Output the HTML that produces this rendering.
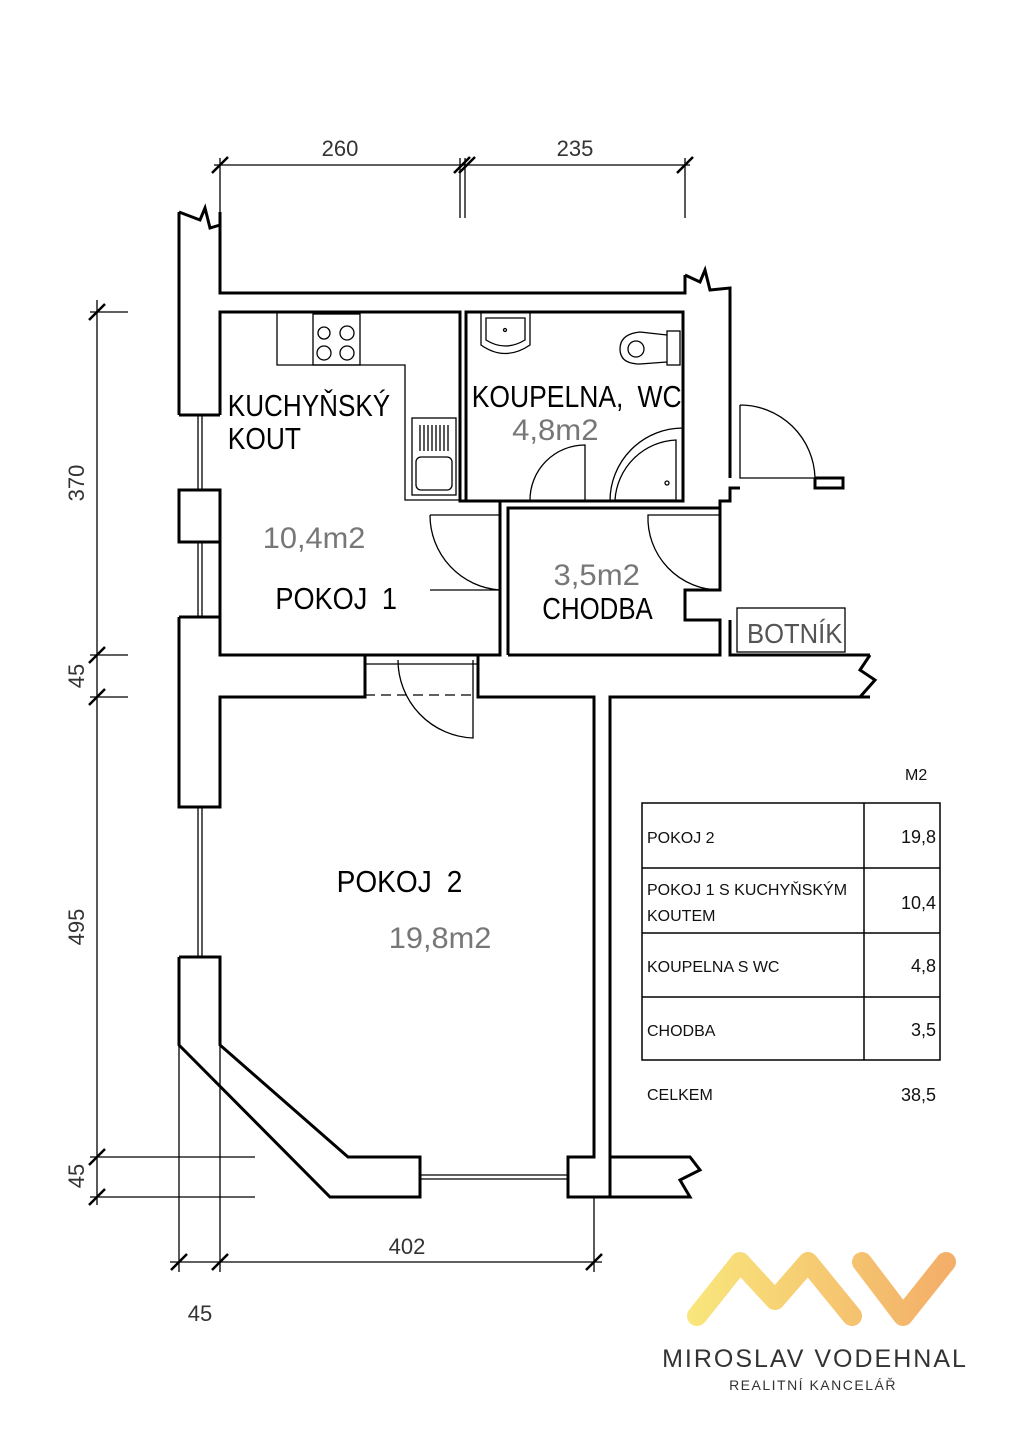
<!DOCTYPE html>
<html><head><meta charset="utf-8"><style>
html,body{margin:0;padding:0;background:#fff}
svg{display:block}
text{font-family:"Liberation Sans",sans-serif}
.c{font-family:"DejaVu Sans Condensed","Liberation Sans Narrow","Liberation Sans",sans-serif}
</style></head><body>
<svg width="1016" height="1440" viewBox="0 0 1016 1440" xmlns="http://www.w3.org/2000/svg">
<defs><linearGradient id="g" gradientUnits="userSpaceOnUse" x1="685" y1="0" x2="955" y2="0"><stop offset="0" stop-color="#f9e77c"/><stop offset="1" stop-color="#f3ad68"/></linearGradient></defs>
<g fill="none" stroke="#000" stroke-width="3">
<polyline points="179,212 179,415"/>
<polyline points="220,212 220,293 685,293 685,275"/>
<polyline points="179,212 200,220 205,208 210,228 220,225"/>
<polyline points="685,275 700,282 705,270 710,290 730,288 730,478"/>
<polyline points="220,415 220,312 460,312 460,501 500,501 500,655 220,655 220,617"/>
<polyline points="220,542 220,617"/>
<polyline points="466,501 466,312 683,312 683,501 466,501"/>
<polyline points="508,655 508,508 720,508 720,590 685,590 685,620 720,620 720,655 508,655"/>
<polyline points="720,508 720,501 730,501 730,488 740,488"/>
<polyline points="730,620 730,655 870,655"/>
<polyline points="179,415 220,415"/>
<rect x="179" y="490" width="41" height="52"/>
<polyline points="179,617 220,617"/>
<polyline points="179,617 179,807 220,807 220,697 365,697 365,655"/>
<polyline points="478,655 478,697 594,697 594,1157 568,1157 568,1197 610,1197 610,697 870,697"/>
<polyline points="870,655 860,670 875,680 860,697"/>
<polyline points="179,957 220,957 220,1045 348,1157 420,1157 420,1197 330,1197 179,1045 179,957"/>
<polyline points="610,1197 690,1197 680,1180 700,1170 690,1157 610,1157"/>
<polyline points="815,478 843,478 843,488 815,488 815,478"/>
</g>
<g fill="none" stroke="#000" stroke-width="1.3">
<line x1="198" y1="415" x2="198" y2="490"/><line x1="202" y1="415" x2="202" y2="490"/>
<line x1="198" y1="542" x2="198" y2="617"/><line x1="202" y1="542" x2="202" y2="617"/>
<line x1="198" y1="807" x2="198" y2="957"/><line x1="202" y1="807" x2="202" y2="957"/>
<line x1="420" y1="1175" x2="568" y2="1175"/><line x1="420" y1="1179" x2="568" y2="1179"/>
<line x1="365" y1="664" x2="478" y2="664"/>
<line x1="365" y1="695" x2="478" y2="695" stroke-dasharray="10,6"/>
<path d="M473,660 L473,738 A78,78 0 0 1 398,660"/>
<path d="M500,590 L430,590 M430,515 A75,75 0 0 0 500,590"/>
<path d="M430,515 L500,515"/>
<path d="M720,590 A72,72 0 0 1 648,515 L720,515"/>
<path d="M585,501 L585,445 A55,55 0 0 0 530,501"/>
<path d="M740,405 L740,478 L815,478 A75,75 0 0 0 740,405"/>
<path d="M683,428 A73,73 0 0 0 610,501"/>
<path d="M676,440 A64,64 0 0 0 615,500 L676,500 Z"/>
<circle cx="667" cy="483" r="2"/>
<polyline points="277,312 277,365 405,365 405,500 460,500"/>
<rect x="313" y="314" width="47" height="51"/>
<circle cx="324" cy="333" r="6"/><circle cx="347" cy="333" r="7"/>
<circle cx="324" cy="353" r="7"/><circle cx="347" cy="353" r="7"/>
<rect x="412" y="418" width="44" height="77"/>
<rect x="416" y="457" width="36" height="33" rx="5"/>
<path d="M420,425v26M424,425v26M428,425v26M432,425v26M436,425v26M440,425v26M444,425v26M448,425v26"/>
<path d="M481,312 L481,345 Q505,362 530,345 L530,312"/>
<path d="M486,318 L486,340 Q505,352 525,340 L525,318 Z"/><circle cx="505" cy="330" r="1.5"/>
<rect x="667" y="331" width="13" height="34"/>
<path d="M667,335 L640,332 Q620,334 620,349 Q620,364 640,364 L667,362"/>
<circle cx="636" cy="349" r="8"/>
<rect x="737" y="608" width="108" height="44"/>
<line x1="214" y1="165" x2="690" y2="165"/>
<line x1="220" y1="158" x2="220" y2="212"/>
<line x1="460" y1="158" x2="460" y2="218"/><line x1="465" y1="158" x2="465" y2="218"/>
<line x1="685" y1="158" x2="685" y2="218"/>
<line x1="97" y1="300" x2="97" y2="1205"/>
<line x1="90" y1="312" x2="128" y2="312"/>
<line x1="90" y1="655" x2="128" y2="655"/>
<line x1="90" y1="697" x2="128" y2="697"/>
<line x1="90" y1="1157" x2="255" y2="1157"/>
<line x1="90" y1="1197" x2="255" y2="1197"/>
<line x1="170" y1="1262" x2="602" y2="1262"/>
<line x1="179" y1="1045" x2="179" y2="1272"/>
<line x1="220" y1="1045" x2="220" y2="1272"/>
<line x1="594" y1="1197" x2="594" y2="1272"/>
</g>
<g stroke="#000" stroke-width="2.5">
<path d="M212,173l16,-16M454,173l16,-16M459,173l16,-16M677,173l16,-16"/>
<path d="M89,320l16,-16M89,663l16,-16M89,705l16,-16M89,1165l16,-16M89,1205l16,-16"/>
<path d="M171,1270l16,-16M212,1270l16,-16M586,1270l16,-16"/>
</g>
<g fill="#222" font-size="22" class="c">
<text x="340" y="156" text-anchor="middle" fill="#333">260</text>
<text x="575" y="156" text-anchor="middle" fill="#333">235</text>
<text x="407" y="1254" text-anchor="middle" fill="#333">402</text>
<text x="200" y="1321" text-anchor="middle" fill="#333">45</text>
<text transform="translate(84,483) rotate(-90)" text-anchor="middle" fill="#333">370</text>
<text transform="translate(84,676) rotate(-90)" text-anchor="middle" fill="#333">45</text>
<text transform="translate(84,927) rotate(-90)" text-anchor="middle" fill="#333">495</text>
<text transform="translate(84,1176) rotate(-90)" text-anchor="middle" fill="#333">45</text>
</g>
<g font-size="31" class="c" fill="#000" transform="scale(0.85,1)" word-spacing="8">
<text x="268" y="416" textLength="191" lengthAdjust="spacingAndGlyphs">KUCHYŇSKÝ</text>
<text x="268" y="449">KOUT</text>
<text x="555" y="407" textLength="247" lengthAdjust="spacingAndGlyphs">KOUPELNA, WC</text>
<text x="324" y="609" textLength="143" lengthAdjust="spacingAndGlyphs">POKOJ 1</text>
<text x="638" y="619" textLength="130" lengthAdjust="spacingAndGlyphs">CHODBA</text>
<text x="396" y="892" textLength="148" lengthAdjust="spacingAndGlyphs">POKOJ 2</text>
</g>
<g font-size="30" class="c" fill="#777" transform="scale(0.9,1)">
<text x="292" y="548" textLength="114" lengthAdjust="spacingAndGlyphs">10,4m2</text>
<text x="569" y="440" textLength="96" lengthAdjust="spacingAndGlyphs">4,8m2</text>
<text x="615" y="585" textLength="96" lengthAdjust="spacingAndGlyphs">3,5m2</text>
<text x="432" y="948" textLength="114" lengthAdjust="spacingAndGlyphs">19,8m2</text>
<text x="830" y="643" fill="#555" font-size="28" textLength="106" lengthAdjust="spacingAndGlyphs">BOTNÍK</text>
</g>
<g fill="none" stroke="#000" stroke-width="1.5">
<rect x="642" y="803" width="298" height="257"/>
<line x1="864" y1="803" x2="864" y2="1060"/>
<line x1="642" y1="868" x2="940" y2="868"/>
<line x1="642" y1="933" x2="940" y2="933"/>
<line x1="642" y1="997" x2="940" y2="997"/>
</g>
<g font-size="16" fill="#111">
<text x="905" y="780">M2</text>
<text x="647" y="843">POKOJ 2</text>
<text x="647" y="895">POKOJ 1 S KUCHYŇSKÝM</text>
<text x="647" y="921">KOUTEM</text>
<text x="647" y="972">KOUPELNA S WC</text>
<text x="647" y="1036">CHODBA</text>
<text x="647" y="1100">CELKEM</text>
<g font-size="18" text-anchor="end">
<text x="936" y="843">19,8</text>
<text x="936" y="909">10,4</text>
<text x="936" y="972">4,8</text>
<text x="936" y="1036">3,5</text>
<text x="936" y="1101">38,5</text>
</g>
</g>
<g fill="none" stroke="url(#g)" stroke-width="20" stroke-linejoin="round" stroke-linecap="round">
<polyline points="697,1316 740,1262 775,1300 808,1262 852,1316"/>
<polyline points="862,1262 903,1316 946,1262"/>
</g>
<text x="815" y="1367" text-anchor="middle" font-size="25" fill="#333" letter-spacing="2">MIROSLAV VODEHNAL</text>
<text x="813" y="1390" text-anchor="middle" font-size="14" fill="#333" letter-spacing="1.5">REALITNÍ KANCELÁŘ</text>
</svg>
</body></html>
